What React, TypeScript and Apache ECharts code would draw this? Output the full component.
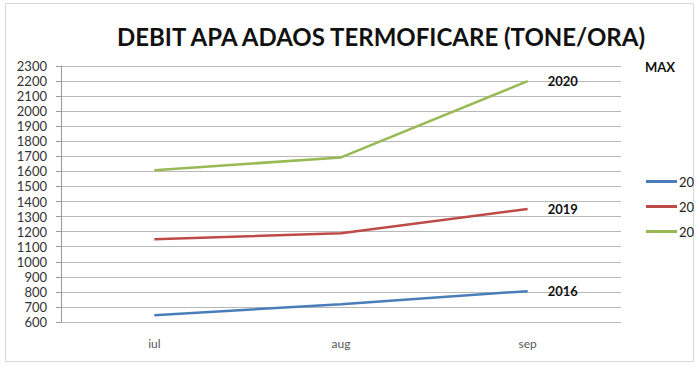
import React, { useEffect, useRef } from "react";
import * as echarts from "echarts";

const categories = ["iul", "aug", "sep"];
const seriesNames = ["2016", "2019", "2020"];
const values2016 = [645, 718, 805];
const values2019 = [1150, 1190, 1350];
const values2020 = [1608, 1693, 2200];
const colors = ["#4A7EBB", "#BE4B48", "#98B954"];

export default function App() {
  const ref = useRef<HTMLDivElement>(null);
  useEffect(() => {
    const chart = echarts.init(ref.current!, undefined, { renderer: "svg" });
    const font = "Lato, 'Open Sans', sans-serif";
    const data = [values2016, values2019, values2020];
    chart.setOption({
      animation: false,
      backgroundColor: "#ffffff",
      textStyle: { fontFamily: font },
      title: [
        {
          text: "DEBIT APA ADAOS TERMOFICARE (TONE/ORA)",
          left: 376,
          textAlign: "center",
          top: 19,
          textStyle: { fontSize: 24, fontWeight: "bold", color: "#111", fontFamily: font },
        },
        {
          text: "MAX",
          left: 640,
          top: 55,
          textStyle: { fontSize: 13, fontWeight: "bold", color: "#111", fontFamily: font },
        },
      ],
      graphic: [
        {
          type: "rect",
          shape: { x: 5.5, y: 3.5, width: 688, height: 358 },
          style: { fill: "none", stroke: "#d9d9d9", lineWidth: 1 },
          silent: true,
        },
      ],
      legend: {
        orient: "vertical",
        left: 641,
        top: 170,
        itemWidth: 31,
        itemHeight: 3,
        itemGap: 12,
        icon: "rect",
        formatter: (name: string) => name.slice(0, 2),
        textStyle: { fontSize: 13, color: "#222", padding: [0, 0, 0, -3] },
        data: seriesNames,
      },
      grid: { left: 61, right: 79, top: 66, bottom: 50 },
      xAxis: {
        type: "category",
        data: categories,
        boundaryGap: true,
        axisLine: { show: false },
        axisTick: { show: false },
        axisLabel: { color: "#595959", fontSize: 12, margin: 15 },
      },
      yAxis: {
        type: "value",
        min: 600,
        max: 2300,
        interval: 100,
        axisLine: { show: true, lineStyle: { color: "#999" } },
        axisTick: { show: true, length: 5, lineStyle: { color: "#999" } },
        axisLabel: {
          color: "#333",
          fontSize: 13,
          margin: 14,
          formatter: (v: number) => String(v),
        },
        splitLine: { lineStyle: { color: "#b8b8b8", width: 1 } },
      },
      series: seriesNames.map((n, i) => ({
        name: n,
        type: "line",
        data: data[i],
        color: colors[i],
        symbol: "none",
        lineStyle: { width: 2.5, color: colors[i] },
        endLabel: {
          show: true,
          formatter: "{a}",
          distance: 20,
          fontSize: 13,
          fontWeight: "bold",
          color: "#111",
          fontFamily: font,
        },
      })),
    });
    return () => chart.dispose();
  }, []);
  return (
    <div
      ref={ref}
      style={{ position: "absolute", left: 0, top: 0, width: 700, height: 372 }}
    />
  );
}
